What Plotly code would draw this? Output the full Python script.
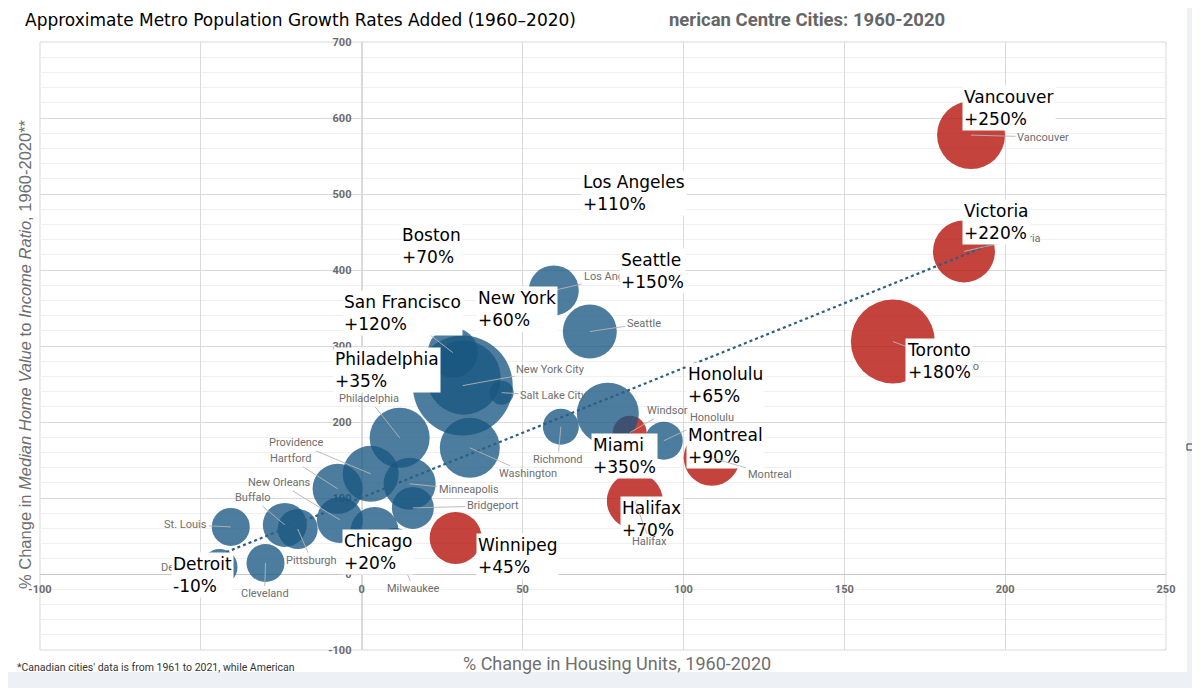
import plotly.graph_objects as go

# ---------------- data ----------------
us_cities = ["Detroit", "Cleveland", "St. Louis", "Buffalo", "Pittsburgh", "New Orleans",
             "Hartford", "Providence", "Chicago", "Milwaukee", "Minneapolis", "Bridgeport",
             "Philadelphia", "Washington", "New York City", "Boston", "San Francisco",
             "Salt Lake City", "Los Angeles", "Seattle", "Richmond", "Miami", "Honolulu"]
us_housing_change = [-44.2, -29.9, -40.7, -23.9, -19.9, -6.8,
                     -7.5, 2.8, 4.0, 10.3, 14.9, 15.9,
                     11.8, 33.6, 31.4, 31.7, 28.3,
                     43.5, 59.7, 70.9, 61.9, 76.5, 93.9]
us_ratio_change = [9.2, 14.5, 62.0, 64.6, 59.3, 71.2,
                   112.1, 131.8, 56.7, 36.9, 118.7, 87.0,
                   179.3, 166.1, 247.9, 258.4, 291.4,
                   238.6, 373.1, 319.0, 193.8, 211.0, 175.3]
us_bubble_size = [3.24, 3.61, 3.61, 4.84, 4.0, 5.29,
                  6.25, 7.84, 5.76, 3.24, 6.76, 4.41,
                  9.0, 9.0, 25.0, 13.7, 6.25,
                  1.44, 6.25, 7.29, 3.24, 9.61, 3.61]

ca_cities = ["Vancouver", "Victoria", "Toronto", "Montreal", "Halifax", "Winnipeg", "Windsor"]
ca_housing_change = [189.4, 187.2, 165.1, 108.8, 84.9, 29.2, 83.3]
ca_ratio_change = [577.5, 424.5, 305.9, 152.9, 96.2, 47.5, 185.9]
ca_bubble_size = [11.56, 9.61, 17.64, 7.84, 7.84, 6.76, 2.89]

growth_cities = ["Vancouver", "Victoria", "Toronto", "Los Angeles", "Boston", "Seattle",
                 "San Francisco", "New York", "Philadelphia", "Honolulu", "Montreal", "Miami",
                 "Halifax", "Winnipeg", "Chicago", "Detroit"]
growth_pct = [250, 220, 180, 110, 70, 150, 120, 60, 35, 65, 90, 350, 70, 45, 20, -10]

trend_x = [-49, 198]
trend_y = [17, 438]

x_ticks = [-100, -50, 0, 50, 100, 150, 200, 250]
x_tick_labels = ["-100", "-50", "0", "50", "100", "150", "200", "250"]
y_ticks = [-100, 0, 100, 200, 300, 400, 500, 600, 700]
y_tick_labels = ["-100", "0", "100", "200", "300", "400", "500", "600", "700"]

# ---------------- layout helpers ----------------
W, H = 1200, 688
OFF = 8                      # page body margin of the html page
PL, PR, PT, PB = 40, 1166, 42, 650   # plot area on screen
ML, MT = PL - OFF, PT - OFF
MR, MB = W - (PR - OFF), H - (PB - OFF)
PW, PH = PR - PL, PB - PT


def pxx(p):
    return (p - PL) / PW


def pxy(p):
    return (PB - p) / PH


pos = {}
for n, x, y in zip(us_cities, us_housing_change, us_ratio_change):
    pos[n] = (x, y)
for n, x, y in zip(ca_cities, ca_housing_change, ca_ratio_change):
    pos[n] = (x, y)

# boxed labels: anchor bubble, x shift, y shift (pixels, box top-left)
box_place = {
    "Vancouver": ("Vancouver", -9, 50),
    "Victoria": ("Victoria", -2, 52),
    "Toronto": ("Toronto", 12, 4),
    "Los Angeles": ("Los Angeles", 27, 120),
    "Boston": ("Boston", -64, 155),
    "Seattle": ("Seattle", 29, 84),
    "San Francisco": ("San Francisco", -111, 63),
    "New York": ("New York City", 13, 100),
    "Philadelphia": ("Philadelphia", -67, 91),
    "Honolulu": ("Honolulu", 22, 79),
    "Montreal": ("Montreal", -26, 35),
    "Miami": ("Miami", -17, -19),
    "Halifax": ("Halifax", -15, 5),
    "Winnipeg": ("Winnipeg", 20, 5),
    "Chicago": ("Chicago", -33, 2),
    "Detroit": ("Detroit", -49, 15),
}

# small grey data labels with leader lines: offset of label centre (pixels)
small_place = {
    "San Francisco": (-45, -35), "Detroit": (-42, 0), "Toronto": (67, 25),
    "Victoria": (58, -13), "Vancouver": (72, 2), "Los Angeles": (60, -14),
    "Seattle": (54, -8), "New York City": (88, -16), "Salt Lake City": (52, 3),
    "Philadelphia": (-31, -39), "Providence": (-74, -31), "Hartford": (-47, -30),
    "New Orleans": (-60, -37), "Buffalo": (-32, -27), "St. Louis": (-45, -2),
    "Pittsburgh": (14, 32), "Cleveland": (-1, 31), "Milwaukee": (19, 43),
    "Minneapolis": (59, 6), "Bridgeport": (80, -2), "Washington": (58, 26),
    "Richmond": (-3, 33), "Windsor": (38, -22), "Honolulu": (48, -23),
    "Montreal": (58, 17), "Halifax": (15, 41),
}
small_on_top = {"Windsor", "Halifax", "Montreal"}

fig = go.Figure()

fig.add_trace(go.Scatter(
    x=ca_housing_change, y=ca_ratio_change, mode="markers", text=ca_cities,
    marker=dict(size=ca_bubble_size, sizemode="area", sizeref=0.005,
                color="rgb(178,12,2)", opacity=0.77, line=dict(width=0)),
    hoverinfo="text", showlegend=False))

fig.add_trace(go.Scatter(
    x=us_housing_change, y=us_ratio_change, mode="markers", text=us_cities,
    marker=dict(size=us_bubble_size, sizemode="area", sizeref=0.005,
                color="rgb(23,86,129)", opacity=0.77, line=dict(width=0)),
    hoverinfo="text", showlegend=False))

fig.add_trace(go.Scatter(
    x=trend_x, y=trend_y, mode="lines",
    line=dict(color="#2c5f82", width=2.2, dash="dot"),
    hoverinfo="skip", showlegend=False))


def small_label(name):
    dx, dy = small_place[name]
    x, y = pos[name]
    return dict(x=x, y=y, xref="x", yref="y", text=name, showarrow=True,
                arrowhead=0, arrowwidth=0.9, arrowcolor="#b4b4b4", standoff=0,
                ax=dx, ay=dy, font=dict(family="Roboto", size=11, color="#6e6e6e"))


annotations = [small_label(n) for n in small_place if n not in small_on_top]

# boxed growth labels
for name, g in zip(growth_cities, growth_pct):
    anchor, sx, sy = box_place[name]
    x, y = pos[anchor]
    txt = f"{name}<br>{'+' if g > 0 else ''}{g}%"
    annotations.append(dict(
        x=x, y=y, xref="x", yref="y", text=txt, showarrow=False,
        xanchor="left", yanchor="top", align="left", xshift=sx, yshift=sy,
        bgcolor="white", borderpad=1,
        font=dict(family="DejaVu Sans", size=17, color="black")))

annotations += [small_label(n) for n in small_place if n in small_on_top]

# titles and notes
annotations += [
    dict(x=pxx(23), y=pxy(20), xref="paper", yref="paper", xanchor="left", yanchor="middle",
         text="Approximate Metro Population Growth Rates Added (1960\u20132020)", showarrow=False,
         font=dict(family="DejaVu Sans", size=17, color="black")),
    dict(x=pxx(667), y=pxy(20), xref="paper", yref="paper", xanchor="left", yanchor="middle",
         text="<b>nerican Centre Cities: 1960-2020</b>", showarrow=False,
         font=dict(family="Roboto", size=18.5, color="#666666")),
    dict(x=pxx(617), y=pxy(663), xref="paper", yref="paper", xanchor="center", yanchor="middle",
         text="% Change in Housing Units, 1960-2020", showarrow=False,
         font=dict(family="Roboto", size=18, color="#6e6e6e")),
    dict(x=pxx(25), y=pxy(354), xref="paper", yref="paper", xanchor="center", yanchor="middle",
         text="% Change in <i>Median Home Value</i> to <i>Income Ratio</i>, 1960-2020**",
         textangle=-90, showarrow=False,
         font=dict(family="Liberation Sans", size=16.5, color="#6e6e6e")),
    dict(x=pxx(15), y=pxy(667), xref="paper", yref="paper", xanchor="left", yanchor="middle",
         text="*Canadian cities' data is from 1961 to 2021, while American", showarrow=False,
         font=dict(family="Roboto", size=10.5, color="#333333")),
]

shapes = [
    # white chart card on a light screen background
    dict(type="rect", xref="paper", yref="paper", x0=pxx(3), x1=pxx(1187),
         y0=pxy(672), y1=pxy(0), fillcolor="white", line=dict(width=0), layer="below"),
    # plot area frame
    dict(type="rect", xref="paper", yref="paper", x0=0, x1=1, y0=0, y1=1,
         line=dict(color="#d9d9d9", width=1), layer="below"),
    # window handle
    dict(type="rect", xref="paper", yref="paper", x0=pxx(1187), x1=pxx(1193),
         y0=pxy(450), y1=pxy(444), line=dict(color="#333333", width=1), layer="above"),
]

tick_font = dict(family="Roboto", size=11, color="#6b6b6b", weight="bold")

fig.update_layout(
    width=W, height=H, margin=dict(l=ML, r=MR, t=MT, b=MB),
    paper_bgcolor="#edf1f5", plot_bgcolor="white",
    annotations=annotations, shapes=shapes,
    xaxis=dict(range=[-100, 250], tickvals=x_ticks, ticktext=x_tick_labels,
               showgrid=True, gridcolor="#dadada", gridwidth=1, zeroline=False,
               anchor="free", position=100 / 800, showline=True, linecolor="#c8c8c8",
               ticks="", tickfont=tick_font, ticklabelstandoff=5, layer="below traces",
               automargin=False, fixedrange=True),
    yaxis=dict(range=[-100, 700], tickvals=y_ticks, ticktext=y_tick_labels,
               showgrid=True, gridcolor="#dadada", gridwidth=1, zeroline=False,
               minor=dict(dtick=20, tick0=0, showgrid=True, gridcolor="#f0f0f0"),
               anchor="free", position=100 / 350, showline=True, linecolor="#d9d9d9",
               ticks="", tickfont=tick_font, ticklabelstandoff=8, layer="below traces",
               automargin=False, fixedrange=True),
)

fig.write_html("out.html")
